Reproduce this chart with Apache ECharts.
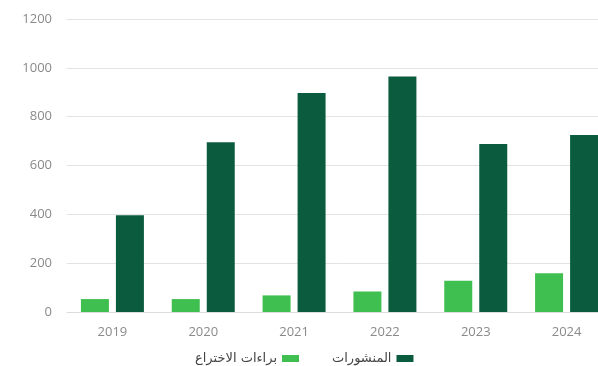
<!DOCTYPE html>
<html>
<head>
<meta charset="utf-8">
<style>
  html, body { margin: 0; padding: 0; background: #ffffff; overflow: hidden; }
  /* the plot runs past the right edge, so the canvas is wider than the window */
  #chart { width: 620px; height: 366px; }
</style>
<script src="https://cdn.jsdelivr.net/npm/echarts@6/dist/echarts.min.js"></script>
</head>
<body>
<div id="chart"></div>
<script>
// Yearly counts: patents (light) and publications (dark)
const years = ['2019', '2020', '2021', '2022', '2023', '2024'];
const patents = [53, 53, 68, 84, 128, 159];
const publications = [396, 695, 897, 964, 688, 725];
const patentsName = 'براءات الاختراع';
const publicationsName = 'المنشورات';

const chart = echarts.init(document.getElementById('chart'), null, { renderer: 'canvas' });

chart.setOption({
  animation: false,
  grid: { left: 67, top: 19, width: 545, height: 293, containLabel: false },
  legend: {
    data: [patentsName, publicationsName],
    left: 190,
    top: 347,
    align: 'right',
    icon: 'rect',
    itemWidth: 17,
    itemHeight: 7,
    itemGap: 33,
    textStyle: { color: '#444444', fontSize: 13, fontFamily: 'DejaVu Sans, sans-serif' }
  },
  xAxis: {
    type: 'category',
    data: years,
    axisTick: { show: false },
    axisLine: { show: true, lineStyle: { color: '#dcdcdc', width: 1 } },
    axisLabel: { color: '#8a8a8a', fontSize: 13, margin: 14, fontFamily: 'Open Sans, sans-serif' }
  },
  yAxis: {
    type: 'value',
    min: 0,
    max: 1200,
    interval: 200,
    axisLine: { show: false },
    axisTick: { show: false },
    axisLabel: {
      color: '#8a8a8a', fontSize: 13, margin: 15, fontFamily: 'Open Sans, sans-serif',
      formatter: v => String(v)
    },
    splitLine: { lineStyle: { color: '#e3e3e3', width: 1 } }
  },
  series: [
    {
      name: patentsName,
      type: 'bar',
      data: patents,
      barWidth: 28,
      barGap: '25%',
      itemStyle: { color: '#3fbf4f' }
    },
    {
      name: publicationsName,
      type: 'bar',
      data: publications,
      barWidth: 28,
      barGap: '25%',
      itemStyle: { color: '#0b5c3f' }
    }
  ]
});
</script>
</body>
</html>
